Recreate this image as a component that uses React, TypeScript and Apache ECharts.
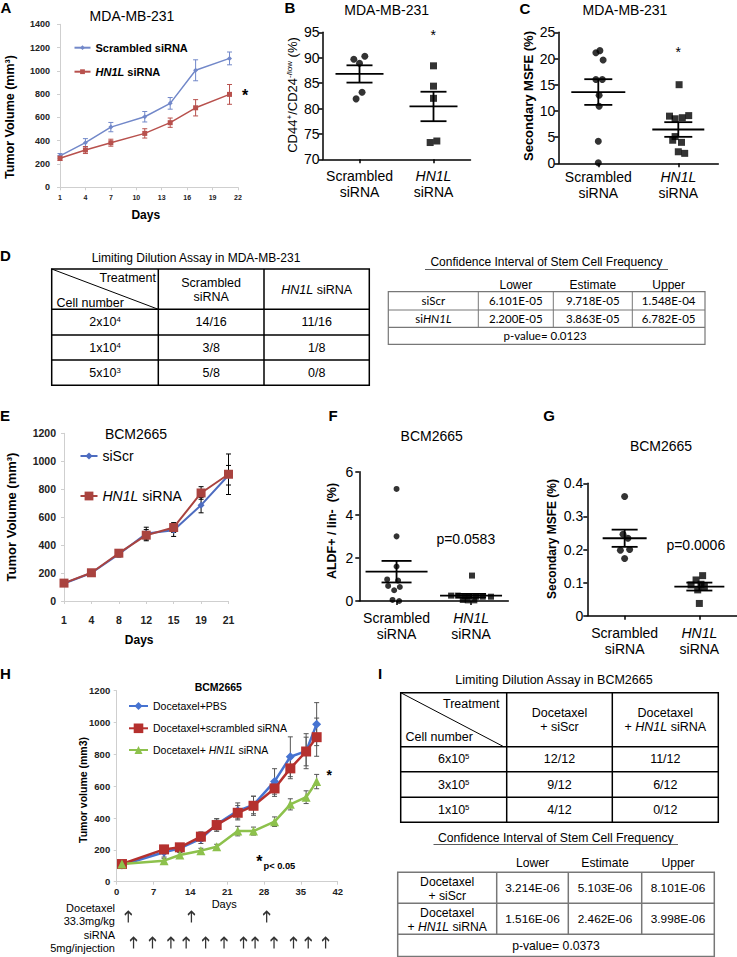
import React, { useEffect, useRef } from 'react';
import * as echarts from 'echarts';

const FONT = "'Liberation Sans', Arial, Helvetica, sans-serif";
const CAL = "Lato, 'Liberation Sans', sans-serif";

// ---------- Panel A : MDA-MB-231 tumour growth ----------
const daysA = [1, 4, 7, 11, 14, 17, 21];
const xTicksA = [1, 4, 7, 10, 13, 16, 19, 22];
const scrambledA = [270, 383, 517, 606, 721, 1005, 1107];
const scrambledAErr = [20, 35, 40, 45, 50, 90, 55];
const hn1lA = [250, 320, 383, 463, 555, 683, 798];
const hn1lAErr = [20, 30, 30, 40, 40, 70, 85];

// ---------- dot-plot groups ----------
const groupCodes = [0, 1];
const groupLabelText = ['Scrambled\nsiRNA', '{i|HN1L}\nsiRNA'];

// Panel B : CD44+/CD24-/low (%)
const bScrambled = [89.7, 90.3, 88.9, 83.2, 81.9];
const bScrambledX = [-0.077, 0.072, 0, 0.035, -0.046];
const bHn1l = [88.4, 84.4, 82.0, 73.3, 73.6];
const bHn1lX = [0, 0, 0, -0.045, 0.045];
const bMean = [86.8, 80.4];
const bSem = [1.7, 2.9];

// Panel C : Secondary MSFE (%) MDA-MB-231
const cScrambled = [21.1, 21.5, 19.7, 16.0, 16.0, 13.0, 10.9, 4.2, 0.1];
const cScrambledX = [-0.03, 0.02, 0.06, -0.03, 0.05, 0.01, 0.01, 0.0, 0.0];
const cHn1l = [15.0, 9.0, 8.5, 8.7, 9.1, 5.1, 4.0, 4.4, 2.2, 1.9];
const cHn1lX = [0.01, -0.11, -0.04, 0.05, 0.13, -0.04, 0.04, -0.07, 0.0, 0.08];
const cMean = [13.6, 6.45];
const cSem = [2.45, 1.4];

// ---------- Panel E : BCM2665 tumour growth ----------
const daysE = ['1', '4', '8', '12', '15', '19', '21'];
const siScrE = [125, 200, 335, 483, 507, 686, 900];
const siScrEErr = [8, 10, 20, 45, 45, 55, 70];
const hn1lE = [128, 202, 342, 471, 526, 773, 907];
const hn1lEErr = [8, 10, 20, 40, 35, 45, 145];

// Panel F : ALDF+ / lin- (%)
const fScrambled = [5.2, 3.0, 1.6, 1.0, 0.95, 0.7, 0.65, 0.5, 0.05, 0.0];
const fScrambledX = [0, 0, 0, -0.126, 0.021, -0.113, 0.044, -0.032, -0.054, 0.035];
const fHn1l = [1.18, 0.25, 0.25, 0.22, 0.22, 0.2, 0.2, 0.2, 0.05, 0.03, 0.03];
const fHn1lX = [0.013, -0.268, -0.179, -0.09, -0.023, 0.067, 0.157, 0.268, -0.111, -0.044, 0.044];
const fMean = [1.36, 0.25];
const fSem = [0.5, 0.08];

// Panel G : Secondary MSFE (%) BCM2665
const gScrambled = [0.36, 0.246, 0.234, 0.2, 0.198, 0.173];
const gScrambledX = [0, -0.022, 0.044, 0.067, -0.057, 0];
const gHn1l = [0.121, 0.108, 0.093, 0.095, 0.088, 0.078, 0.037];
const gHn1lX = [0.044, -0.044, -0.111, 0.022, 0.067, -0.022, 0];
const gMean = [0.234, 0.088];
const gSem = [0.026, 0.012];

// ---------- Panel H : BCM2665 + docetaxel ----------
const daysH = [1, 9, 12, 16, 19, 23, 26, 30, 33, 36, 38];
const pbsH = [105, 185, 210, 270, 360, 445, 482, 630, 785, 820, 990];
const pbsHErr = [15, 30, 25, 30, 35, 50, 55, 80, 125, 110, 135];
const scrH = [111, 203, 216, 283, 356, 433, 477, 586, 712, 818, 908];
const scrHErr = [15, 25, 20, 30, 40, 45, 60, 50, 65, 90, 120];
const hn1lH = [111, 132, 168, 195, 220, 318, 318, 377, 486, 531, 629];
const hn1lHErr = [10, 15, 15, 15, 15, 30, 25, 30, 35, 40, 45];
const docetaxelDays = [2.2, 14.2, 28.5];
const siRnaDays = [3.2, 6.8, 10.3, 13.2, 16.9, 20.4, 24.1, 26.3, 29.9, 33.6, 36.4, 39.7];

// ---------- Tables ----------
const ldaMdaHeader = ['Scrambled\nsiRNA', '{i|HN1L} siRNA'];
const ldaMdaCells = ['2x10{s|4}', '1x10{s|4}', '5x10{s|3}'];
const ldaMdaScr = ['14/16', '3/8', '5/8'];
const ldaMdaHn = ['11/16', '1/8', '0/8'];
const ciHeader = ['Lower', 'Estimate', 'Upper'];
const ciMdaRows = ['siScr', 'si{i|HN1L}'];
const ciMdaScr = ['6.101E-05', '9.718E-05', '1.548E-04'];
const ciMdaHn = ['2.200E-05', '3.863E-05', '6.782E-05'];
const ciMdaP = 'p-value= 0.0123';

const ldaBcmHeader = ['Docetaxel\n+ siScr', 'Docetaxel\n+ {i|HN1L} siRNA'];
const ldaBcmCells = ['6x10{s|5}', '3x10{s|5}', '1x10{s|5}'];
const ldaBcmScr = ['12/12', '9/12', '4/12'];
const ldaBcmHn = ['11/12', '6/12', '0/12'];
const ciBcmRows = ['Docetaxel\n+ siScr', 'Docetaxel\n+ {i|HN1L} siRNA'];
const ciBcmScr = ['3.214E-06', '5.103E-06', '8.101E-06'];
const ciBcmHn = ['1.516E-06', '2.462E-06', '3.998E-06'];
const ciBcmP = 'p-value= 0.0373';

const COL = {
  aBlue: '#7288c9', aRed: '#b8514d',
  eBlue: '#4d6cc0', eRed: '#a9433f',
  hBlue: '#4673d1', hRed: '#b5302e', hGreen: '#8dc14c',
  gray: '#cfcfcf',
};

const legendText: Record<string, string> = {
  'A-scr': 'Scrambled siRNA',
  'A-hn': '{i|HN1L} siRNA',
  'E-scr': 'siScr',
  'E-hn': '{i|HN1L} siRNA',
  'H-pbs': 'Docetaxel+PBS',
  'H-scr': 'Docetaxel+scrambled siRNA',
  'H-hn': 'Docetaxel+ {i|HN1L} siRNA',
};

const ARROW = 'path://M0,5 L5,0 L10,5 M5,0 L5,16';
const plainNum = (v: number) => String(v);

function richSet(size: number, family = FONT, weight = 'normal') {
  return {
    i: { fontStyle: 'italic', fontSize: size, fontFamily: family, fontWeight: weight, fill: '#000' },
    s: { fontSize: size * 0.62, fontFamily: family, fontWeight: weight, verticalAlign: 'top', fill: '#000' },
  };
}

function txt(x: number, y: number, text: string, o: any = {}) {
  const size = o.size || 12;
  const family = o.family || FONT;
  const weight = o.bold ? 'bold' : 'normal';
  return {
    type: 'text', x, y, rotation: o.rot || 0, silent: true, z: 10,
    style: {
      text, fontSize: size, fontFamily: family, fontWeight: weight,
      fontStyle: o.italic ? 'italic' : 'normal', fill: o.color || '#000',
      align: o.align || 'center', verticalAlign: o.va || 'middle',
      lineHeight: o.lh, rich: richSet(size, family, weight),
    },
  };
}

function ln(x1: number, y1: number, x2: number, y2: number, w = 1, c = '#000') {
  return { type: 'line', silent: true, z: 10, shape: { x1, y1, x2, y2 }, style: { stroke: c, lineWidth: w } };
}

function errBar(color: string, cap: number, width: number) {
  return (params: any, api: any) => {
    const x = api.value(0), v = api.value(1), e = api.value(2);
    const hi = api.coord([x, v + e]);
    const lo = api.coord([x, v - e]);
    const st = { stroke: color, lineWidth: width };
    return {
      type: 'group', children: [
        { type: 'line', shape: { x1: hi[0], y1: hi[1], x2: lo[0], y2: lo[1] }, style: st },
        { type: 'line', shape: { x1: hi[0] - cap, y1: hi[1], x2: hi[0] + cap, y2: hi[1] }, style: st },
        { type: 'line', shape: { x1: lo[0] - cap, y1: lo[1], x2: lo[0] + cap, y2: lo[1] }, style: st },
      ],
    };
  };
}

function meanSem(halfWidths: number[], cap: number) {
  return (params: any, api: any) => {
    const g = api.value(0), m = api.value(1), s = api.value(2);
    const c = api.coord([g, m]);
    const hi = api.coord([g, m + s]);
    const lo = api.coord([g, m - s]);
    const hw = halfWidths[params.dataIndex];
    const st = { stroke: '#000', lineWidth: 1.8 };
    return {
      type: 'group', children: [
        { type: 'line', shape: { x1: c[0] - hw, y1: c[1], x2: c[0] + hw, y2: c[1] }, style: st },
        { type: 'line', shape: { x1: hi[0] - cap, y1: hi[1], x2: hi[0] + cap, y2: hi[1] }, style: st },
        { type: 'line', shape: { x1: lo[0] - cap, y1: lo[1], x2: lo[0] + cap, y2: lo[1] }, style: st },
        { type: 'line', shape: { x1: hi[0], y1: hi[1], x2: lo[0], y2: lo[1] }, style: st },
      ],
    };
  };
}

function dotXAxis(gridIndex: number, margin: number) {
  return {
    type: 'value', gridIndex, min: -0.5, max: 1.5,
    axisLine: { show: true, onZero: false, lineStyle: { color: '#000', width: 1.5 } },
    axisTick: { show: true, customValues: groupCodes, length: 4, lineStyle: { color: '#000', width: 1.5 } },
    axisLabel: {
      customValues: groupCodes, margin, fontSize: 14, color: '#000', fontFamily: FONT, lineHeight: 16,
      formatter: (v: number) => groupLabelText[Math.round(v)],
      rich: { i: { fontStyle: 'italic', fontSize: 14, fontFamily: FONT, color: '#000', lineHeight: 16 } },
    },
    splitLine: { show: false },
  };
}

function dotYAxis(gridIndex: number, min: number, max: number, interval: number, margin: number) {
  return {
    type: 'value', gridIndex, min, max, interval,
    axisLine: { show: true, onZero: false, lineStyle: { color: '#000', width: 1.5 } },
    axisTick: { show: true, length: 4, lineStyle: { color: '#000', width: 1.5 } },
    axisLabel: { fontSize: 14, color: '#000', fontFamily: FONT, margin, formatter: plainNum },
    splitLine: { show: false },
  };
}

function grayAxisLabel(size: number, margin: number, extra: any = {}) {
  return { fontSize: size, fontWeight: 'bold', color: '#222', fontFamily: FONT, margin, ...extra };
}

function dotSeries(idx: number, values: number[], jitter: number[], group: number, symbol: string, size: number) {
  return {
    type: 'scatter', xAxisIndex: idx, yAxisIndex: idx, symbol, symbolSize: size, silent: true,
    itemStyle: { color: '#000' }, z: 3,
    data: values.map((v, i) => [group + jitter[i], v]),
  };
}

function meanSeries(idx: number, means: number[], sems: number[], hw: number[], cap: number) {
  return {
    type: 'custom', xAxisIndex: idx, yAxisIndex: idx, silent: true, z: 4,
    encode: { x: 0, y: 1 },
    data: groupCodes.map((g, i) => [g, means[i], sems[i]]),
    renderItem: meanSem(hw, cap),
  };
}

function errSeries(idx: number, xs: number[], vals: number[], errs: number[], color: string, cap: number, w: number) {
  return {
    type: 'custom', xAxisIndex: idx, yAxisIndex: idx, silent: true, z: 1,
    encode: { x: 0, y: 1 },
    data: xs.map((x, i) => [x, vals[i], errs[i]]),
    renderItem: errBar(color, cap, w),
  };
}

function mkLegend(name: string, left: number, cy: number, iw: number, ih: number, size: number, bold: boolean) {
  const lh = size + 3;
  const weight = bold ? 'bold' : 'normal';
  return {
    data: [name], left, top: cy - lh / 2, padding: 0, itemWidth: iw, itemHeight: ih,
    selectedMode: false, orient: 'horizontal',
    formatter: (n: string) => legendText[n],
    textStyle: {
      fontSize: size, fontWeight: weight, fontFamily: FONT, color: '#000', lineHeight: lh,
      rich: { i: { fontStyle: 'italic', fontWeight: weight, fontSize: size, fontFamily: FONT, color: '#000', lineHeight: lh } },
    },
  };
}

function buildGraphic() {
  const g: any[] = [];
  // panel letters
  g.push(txt(0.5, 7.5, 'A', { bold: true, size: 15, align: 'left' }));
  g.push(txt(290, 7, 'B', { bold: true, size: 15 }));
  g.push(txt(525, 8, 'C', { bold: true, size: 15 }));
  g.push(txt(0, 255.5, 'D', { bold: true, size: 15, align: 'left' }));
  g.push(txt(0, 415, 'E', { bold: true, size: 15, align: 'left' }));
  g.push(txt(333, 415, 'F', { bold: true, size: 15 }));
  g.push(txt(549, 415, 'G', { bold: true, size: 15 }));
  g.push(txt(0, 673, 'H', { bold: true, size: 15, align: 'left' }));
  g.push(txt(380, 673, 'I', { bold: true, size: 15 }));

  // titles
  g.push(txt(132, 16, 'MDA-MB-231', { size: 14 }));
  g.push(txt(386.7, 9.5, 'MDA-MB-231', { size: 14 }));
  g.push(txt(625, 9.5, 'MDA-MB-231', { size: 14 }));
  g.push(txt(136, 434, 'BCM2665', { size: 14 }));
  g.push(txt(431.7, 436, 'BCM2665', { size: 14 }));
  g.push(txt(661, 446, 'BCM2665', { size: 14 }));
  g.push(txt(218.3, 687, 'BCM2665', { size: 10.5, bold: true }));

  // axis titles
  const R = Math.PI / 2;
  g.push(txt(10, 117, 'Tumor Volume (mm³)', { size: 12.5, bold: true, rot: R }));
  g.push(txt(145.8, 215, 'Days', { size: 12, bold: true }));
  g.push(txt(292, 95, 'CD44{s|+}/CD24{s|-/low} (%)', { size: 13, rot: R }));
  g.push(txt(528.3, 96, 'Secondary MSFE (%)', { size: 13, bold: true, rot: R }));
  g.push(txt(11.7, 517, 'Tumor Volume (mm³)', { size: 13, bold: true, rot: R }));
  g.push(txt(139.2, 640, 'Days', { size: 12, bold: true }));
  g.push(txt(331.7, 531, 'ALDF+ / lin-  (%)', { size: 12.5, bold: true, rot: R }));
  g.push(txt(552.3, 539, 'Secondary MSFE (%)', { size: 12, bold: true, rot: R }));
  g.push(txt(82.5, 790, 'Tumor volume (mm3)', { size: 10.5, bold: true, rot: R }));
  g.push(txt(224.2, 904, 'Days', { size: 11 }));

  // significance marks
  g.push(txt(245, 95, '*', { size: 16, bold: true }));
  g.push(txt(433.3, 34.5, '*', { size: 14 }));
  g.push(txt(678.3, 51.5, '*', { size: 14 }));
  g.push(txt(329.3, 775, '*', { size: 14, bold: true }));
  g.push(txt(259.3, 861, '*', { size: 16, bold: true }));
  g.push(txt(263.5, 866, 'p< 0.05', { size: 9.3, bold: true, align: 'left' }));
  g.push(txt(465.8, 539.3, 'p=0.0583', { size: 14 }));
  g.push(txt(695.8, 545, 'p=0.0006', { size: 14 }));

  // H treatment labels
  g.push(txt(115, 908.3, 'Docetaxel', { size: 11, align: 'right' }));
  g.push(txt(115, 921, '33.3mg/kg', { size: 11, align: 'right' }));
  g.push(txt(115, 935, 'siRNA', { size: 11, align: 'right' }));
  g.push(txt(115, 948.3, '5mg/injection', { size: 11, align: 'right' }));

  // ---- D left table ----
  g.push(txt(196, 258, 'Limiting Dilution Assay in MDA-MB-231', { size: 12 }));
  {
    const L = 51.7, Rr = 369.3, T = 269, hB = 309.3, rows = [335, 360], B = 385.3;
    const c1 = 158.3, c2 = 264;
    g.push({ type: 'rect', silent: true, z: 10, shape: { x: L, y: T, width: Rr - L, height: B - T }, style: { fill: 'none', stroke: '#000', lineWidth: 1.5 } });
    g.push(ln(L, hB, Rr, hB, 1.5));
    rows.forEach((y) => g.push(ln(L, y, Rr, y, 1.5)));
    g.push(ln(c1, T, c1, B, 1.5));
    g.push(ln(c2, T, c2, B, 1.5));
    g.push(ln(L, T, c1, hB, 1));
    g.push(txt(156, 278.3, 'Treatment', { size: 12.5, align: 'right' }));
    g.push(txt(56.5, 302.7, 'Cell number', { size: 12.5, align: 'left' }));
    g.push(txt((c1 + c2) / 2, 290, ldaMdaHeader[0], { size: 12.5, lh: 14.6 }));
    g.push(txt((c2 + Rr) / 2, 290, ldaMdaHeader[1], { size: 12.5 }));
    const ys = [hB, ...rows, B];
    for (let i = 0; i < 3; i++) {
      const y = (ys[i] + ys[i + 1]) / 2;
      g.push(txt((L + c1) / 2, y, ldaMdaCells[i], { size: 12.5 }));
      g.push(txt((c1 + c2) / 2, y, ldaMdaScr[i], { size: 12.5 }));
      g.push(txt((c2 + Rr) / 2, y, ldaMdaHn[i], { size: 12.5 }));
    }
  }
  // ---- D right table ----
  g.push(txt(546.5, 262, 'Confidence Interval of Stem Cell Frequency', { size: 12 }));
  g.push(ln(425, 269.5, 668, 269.5, 0.8, '#333'));
  {
    const L = 388.3, Rr = 705, T = 291.7, r1 = 310, r2 = 327.3, B = 344.3;
    const cx = [478.3, 553.3, 632.3];
    g.push({ type: 'rect', silent: true, z: 10, shape: { x: L, y: T, width: Rr - L, height: B - T }, style: { fill: 'none', stroke: '#777', lineWidth: 1.2 } });
    g.push(ln(L, r1, Rr, r1, 1, '#777'));
    g.push(ln(L, r2, Rr, r2, 1.2, '#777'));
    cx.forEach((x) => g.push(ln(x, T, x, r2, 1, '#777')));
    const centers = [(cx[0] + cx[1]) / 2, (cx[1] + cx[2]) / 2, (cx[2] + Rr) / 2];
    ciHeader.forEach((h, i) => g.push(txt(centers[i], 285, h, { size: 12 })));
    g.push(txt((L + cx[0]) / 2, (T + r1) / 2, ciMdaRows[0], { size: 11.5, family: CAL }));
    g.push(txt((L + cx[0]) / 2, (r1 + r2) / 2, ciMdaRows[1], { size: 11.5, family: CAL }));
    ciMdaScr.forEach((v, i) => g.push(txt(centers[i], (T + r1) / 2, v, { size: 11.5, family: CAL })));
    ciMdaHn.forEach((v, i) => g.push(txt(centers[i], (r1 + r2) / 2, v, { size: 11.5, family: CAL })));
    g.push(txt(545, (r2 + B) / 2, ciMdaP, { size: 11.5, family: CAL }));
  }
  // ---- I tables ----
  g.push(txt(554, 680, 'Limiting Dilution Assay in BCM2665', { size: 12.5 }));
  {
    const L = 400.7, Rr = 718.3, T = 692.7, hB = 746.7, rows = [771.7, 797.3], B = 822.3;
    const c1 = 506.7, c2 = 612.3;
    g.push({ type: 'rect', silent: true, z: 10, shape: { x: L, y: T, width: Rr - L, height: B - T }, style: { fill: 'none', stroke: '#000', lineWidth: 1.5 } });
    g.push(ln(L, hB, Rr, hB, 1.5));
    rows.forEach((y) => g.push(ln(L, y, Rr, y, 1.5)));
    g.push(ln(c1, T, c1, B, 1.5));
    g.push(ln(c2, T, c2, B, 1.5));
    g.push(ln(L, T, c1 - 3, hB, 1));
    g.push(txt(499.5, 704, 'Treatment', { size: 12.5, align: 'right' }));
    g.push(txt(405.5, 736.7, 'Cell number', { size: 12.5, align: 'left' }));
    g.push(txt((c1 + c2) / 2, 720, ldaBcmHeader[0], { size: 12.5, lh: 13.4 }));
    g.push(txt((c2 + Rr) / 2, 720, ldaBcmHeader[1], { size: 12.5, lh: 13.4 }));
    const ys = [hB, ...rows, B];
    for (let i = 0; i < 3; i++) {
      const y = (ys[i] + ys[i + 1]) / 2;
      g.push(txt((L + c1) / 2, y, ldaBcmCells[i], { size: 12.5 }));
      g.push(txt((c1 + c2) / 2, y, ldaBcmScr[i], { size: 12.5 }));
      g.push(txt((c2 + Rr) / 2, y, ldaBcmHn[i], { size: 12.5 }));
    }
  }
  g.push(txt(555.8, 837.7, 'Confidence Interval of Stem Cell Frequency', { size: 12.2 }));
  g.push(ln(433.5, 844.5, 678, 844.5, 0.8, '#333'));
  {
    const L = 397.7, Rr = 714.3, T = 872.3, r1 = 903.3, r2 = 934.3, B = 956.5;
    const cx = [496.7, 568.3, 641.7];
    g.push({ type: 'rect', silent: true, z: 10, shape: { x: L, y: T, width: Rr - L, height: B - T }, style: { fill: 'none', stroke: '#777', lineWidth: 1.5 } });
    g.push(ln(L, r1, Rr, r1, 1.5, '#777'));
    g.push(ln(L, r2, Rr, r2, 1.5, '#777'));
    cx.forEach((x) => g.push(ln(x, T, x, r2, 1.5, '#777')));
    const centers = [(cx[0] + cx[1]) / 2, (cx[1] + cx[2]) / 2, (cx[2] + Rr) / 2];
    ciHeader.forEach((h, i) => g.push(txt(centers[i], 862.7, h, { size: 12.2 })));
    g.push(txt((L + cx[0]) / 2, 889, ciBcmRows[0], { size: 12.2, lh: 14.3 }));
    g.push(txt((L + cx[0]) / 2, 919.7, ciBcmRows[1], { size: 12.2, lh: 14.3 }));
    ciBcmScr.forEach((v, i) => g.push(txt(centers[i], 888.3, v, { size: 11.8 })));
    ciBcmHn.forEach((v, i) => g.push(txt(centers[i], 919.3, v, { size: 11.8 })));
    g.push(txt(556, 946.3, ciBcmP, { size: 12.2 }));
  }
  return g;
}

function buildOption(): any {
  const grids = [
    { left: 60, top: 24.3, width: 178, height: 163 },        // A
    { left: 322.5, top: 32.3, width: 148, height: 127 },     // B
    { left: 558.3, top: 32.3, width: 160, height: 131 },     // C
    { left: 64, top: 433.3, width: 164.5, height: 167.7 },   // E
    { left: 359.3, top: 471.7, width: 149, height: 129.3 },  // F
    { left: 587.3, top: 483.3, width: 149.4, height: 132.4 },// G
    { left: 116.7, top: 690.7, width: 221, height: 191 },    // H
    { left: 116.7, top: 917, width: 221, height: 26 },       // H arrows
  ].map((gr) => ({ ...gr, containLabel: false, outerBoundsMode: 'none' }));

  const grayLine = { show: true, onZero: false, lineStyle: { color: COL.gray, width: 1 } };
  const grayTick = { show: true, length: 3, lineStyle: { color: COL.gray, width: 1 } };

  const xAxis: any[] = [
    {
      type: 'value', gridIndex: 0, min: 1, max: 22, axisLine: grayLine,
      axisTick: { ...grayTick, customValues: xTicksA },
      axisLabel: grayAxisLabel(7, 7, { customValues: xTicksA, formatter: plainNum }), splitLine: { show: false },
    },
    dotXAxis(1, 9),
    dotXAxis(2, 5.5),
    {
      type: 'category', gridIndex: 3, data: daysE, boundaryGap: false, axisLine: grayLine,
      axisTick: { ...grayTick, alignWithLabel: true }, axisLabel: grayAxisLabel(10.5, 13), splitLine: { show: false },
    },
    dotXAxis(4, 9),
    dotXAxis(5, 9.5),
    {
      type: 'value', gridIndex: 6, min: 0, max: 42, interval: 7, axisLine: grayLine, axisTick: grayTick,
      axisLabel: grayAxisLabel(9.5, 5, { formatter: plainNum }), splitLine: { show: false },
    },
    { type: 'value', gridIndex: 7, min: 0, max: 42, show: false },
  ];
  const yAxis: any[] = [
    {
      type: 'value', gridIndex: 0, min: 0, max: 1400, interval: 200, axisLine: grayLine, axisTick: grayTick,
      axisLabel: grayAxisLabel(9, 10, { formatter: plainNum }), splitLine: { show: false },
    },
    dotYAxis(1, 70, 95, 5, 3),
    dotYAxis(2, 0, 25, 5, 3),
    {
      type: 'value', gridIndex: 3, min: 0, max: 1200, interval: 200, axisLine: grayLine, axisTick: grayTick,
      axisLabel: grayAxisLabel(10.5, 8, { formatter: plainNum }), splitLine: { show: false },
    },
    dotYAxis(4, 0, 6, 2, 6),
    dotYAxis(5, 0, 0.4, 0.1, 4),
    {
      type: 'value', gridIndex: 6, min: 0, max: 1200, interval: 200, axisLine: grayLine, axisTick: grayTick,
      axisLabel: grayAxisLabel(9.5, 6.5, { formatter: plainNum }), splitLine: { show: false },
    },
    { type: 'value', gridIndex: 7, min: 0, max: 1, show: false },
  ];

  const lineS = (name: string, idx: number, data: any[], color: string, symbol: string, size: number, width: number) => ({
    type: 'line', name, xAxisIndex: idx, yAxisIndex: idx, data, symbol, symbolSize: size, silent: true,
    lineStyle: { color, width }, itemStyle: { color }, z: 3,
  });

  const series: any[] = [
    // A
    errSeries(0, daysA, scrambledA, scrambledAErr, COL.aBlue, 2.5, 1),
    errSeries(0, daysA, hn1lA, hn1lAErr, COL.aRed, 2.5, 1),
    lineS('A-scr', 0, daysA.map((d, i) => [d, scrambledA[i]]), COL.aBlue, 'diamond', 5, 1.5),
    lineS('A-hn', 0, daysA.map((d, i) => [d, hn1lA[i]]), COL.aRed, 'rect', 5, 1.5),
    // B
    dotSeries(1, bScrambled, bScrambledX, 0, 'circle', 7),
    dotSeries(1, bHn1l, bHn1lX, 1, 'rect', 7),
    meanSeries(1, bMean, bSem, [24, 24], 13),
    // C
    dotSeries(2, cScrambled, cScrambledX, 0, 'circle', 7),
    dotSeries(2, cHn1l, cHn1lX, 1, 'rect', 7),
    meanSeries(2, cMean, cSem, [27, 26], 14),
    // E
    errSeries(3, daysE.map((_, i) => i), siScrE, siScrEErr, '#000', 2.5, 1),
    errSeries(3, daysE.map((_, i) => i), hn1lE, hn1lEErr, '#000', 2.5, 1),
    lineS('E-scr', 3, siScrE, COL.eBlue, 'diamond', 7, 2),
    lineS('E-hn', 3, hn1lE, COL.eRed, 'rect', 9, 2),
    // F
    dotSeries(4, fScrambled, fScrambledX, 0, 'circle', 6),
    dotSeries(4, fHn1l, fHn1lX, 1, 'rect', 6),
    meanSeries(4, fMean, fSem, [31, 31], 15),
    // G
    dotSeries(5, gScrambled, gScrambledX, 0, 'circle', 7),
    dotSeries(5, gHn1l, gHn1lX, 1, 'rect', 7),
    meanSeries(5, gMean, gSem, [22, 25], 13),
    // H
    errSeries(6, daysH, pbsH, pbsHErr, '#555', 2.5, 1),
    errSeries(6, daysH, scrH, scrHErr, '#555', 2.5, 1),
    errSeries(6, daysH, hn1lH, hn1lHErr, '#555', 2.5, 1),
    lineS('H-pbs', 6, daysH.map((d, i) => [d, pbsH[i]]), COL.hBlue, 'diamond', 9, 2.5),
    lineS('H-scr', 6, daysH.map((d, i) => [d, scrH[i]]), COL.hRed, 'rect', 10, 2.5),
    lineS('H-hn', 6, daysH.map((d, i) => [d, hn1lH[i]]), COL.hGreen, 'triangle', 9, 2.5),
    // H arrows
    {
      type: 'scatter', xAxisIndex: 7, yAxisIndex: 7, silent: true, symbol: ARROW, symbolSize: [7, 11],
      itemStyle: { color: 'transparent', borderColor: '#000', borderWidth: 1.6 },
      data: docetaxelDays.map((d) => [d, 1]),
    },
    {
      type: 'scatter', xAxisIndex: 7, yAxisIndex: 7, silent: true, symbol: ARROW, symbolSize: [7, 11],
      itemStyle: { color: 'transparent', borderColor: '#000', borderWidth: 1.6 },
      data: siRnaDays.map((d) => [d, 0]),
    },
  ];

  const legend = [
    mkLegend('A-scr', 73.5, 47.7, 16, 6, 11, true),
    mkLegend('A-hn', 73.5, 71.7, 16, 6, 11, true),
    mkLegend('E-scr', 79.5, 456, 17, 9, 14, false),
    mkLegend('E-hn', 79.5, 496, 17, 11, 14, false),
    mkLegend('H-pbs', 128, 706, 19, 10, 10.5, false),
    mkLegend('H-scr', 128, 728.3, 19, 12, 10.5, false),
    mkLegend('H-hn', 128, 750, 19, 10, 10.5, false),
  ];

  return {
    animation: false,
    backgroundColor: '#fff',
    textStyle: { fontFamily: FONT },
    grid: grids,
    xAxis,
    yAxis,
    legend,
    series,
    graphic: buildGraphic(),
  };
}

export default function App() {
  const ref = useRef<HTMLDivElement>(null);
  useEffect(() => {
    if (!ref.current) return;
    const chart = echarts.init(ref.current, null, { renderer: 'svg' });
    chart.setOption(buildOption());
    return () => chart.dispose();
  }, []);
  return (
    <div
      ref={ref}
      style={{ position: 'absolute', left: 0, top: 0, width: 737, height: 957, background: '#fff' }}
    />
  );
}
